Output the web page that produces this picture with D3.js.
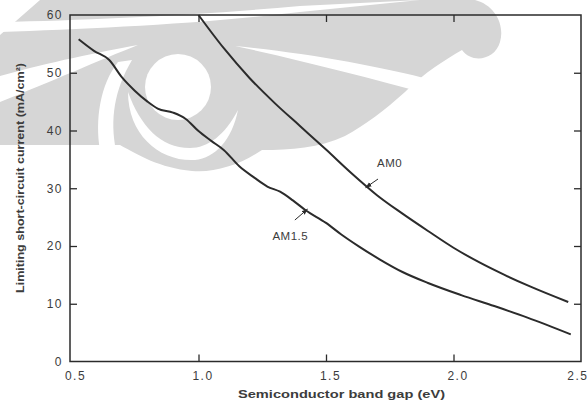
<!DOCTYPE html>
<html><head><meta charset="utf-8">
<script src="https://cdn.jsdelivr.net/npm/d3@7"></script>
<style>body{margin:0;background:#fff}svg{display:block}</style>
</head><body><svg id="c" width="588" height="409"></svg>
<script>
// ---- data ----
const am0E  = [1.00, 1.10, 1.20, 1.30, 1.40, 1.50, 1.60, 1.70, 1.80, 1.90, 2.00, 2.10, 2.20, 2.30, 2.45];
const am0J  = [60.0, 54.2, 49.1, 44.7, 40.7, 36.7, 32.6, 28.8, 25.6, 22.6, 19.7, 17.2, 15.0, 13.0, 10.3];
const am15E = [0.53, 0.59, 0.65, 0.70, 0.75, 0.80, 0.84, 0.90, 0.95, 1.00, 1.05, 1.10, 1.16, 1.22, 1.27, 1.32, 1.37, 1.42, 1.50, 1.56, 1.63, 1.71, 1.80, 1.90, 2.03, 2.16, 2.29, 2.46];
const am15J = [55.8, 53.8, 52.2, 49.2, 46.9, 45.0, 43.8, 43.1, 42.0, 39.9, 38.2, 36.6, 33.8, 31.8, 30.3, 29.4, 27.9, 26.2, 24.0, 22.0, 19.9, 17.7, 15.5, 13.6, 11.5, 9.6, 7.6, 4.7];
const seriesNames = ["AM0", "AM1.5"];
const xTicks = [0.5, 1.0, 1.5, 2.0, 2.5];
const xTickLabels = ["0.5", "1.0", "1.5", "2.0", "2.5"];
const yTicks = [0, 10, 20, 30, 40, 50, 60];
const yTickLabels = ["0", "10", "20", "30", "40", "50", "60"];
const xTitle = "Semiconductor band gap (eV)";
const yTitle = "Limiting short-circuit current (mA/cm\u00B2)";
// annotation anchors in data units: [labelE, labelJ, tailE, tailJ, tipE, tipJ]
const annAM0  = [1.70, 33.6, 1.704, 31.6, 1.655, 30.1];
const annAM15 = [1.29, 21.0, 1.378, 24.5, 1.428, 26.4];

const svg = d3.select("#c");
const x = d3.scaleLinear().domain([0.5, 2.5]).range([71, 581]);
const y = d3.scaleLinear().domain([0, 60]).range([361.5, 15]);
const ink = "#2b2b2b", txt = "#3c3c3c";
const font = "'Liberation Sans', Arial, sans-serif";

// ---- background watermark (decorative) ----
const wm = svg.append("g");
wm.append("path").attr("fill", "#d6d6d6").attr("d",
  "M40,0 L475,0 C495,5 505,25 500,42 C495,60 472,64 462,50 C445,60 425,72 405,92 C385,110 365,125 345,136 C320,148 290,150 262,150 C240,165 215,173 192,171 C160,168 138,155 120,145 L0,145 L0,35 Z");
const wh = "#ffffff";
wm.append("path").attr("fill", wh).attr("d", "M0,22 C90,20 200,15 300,6 L420,0 L300,12 C200,24 90,29 0,32 Z");
wm.append("path").attr("fill", wh).attr("d", "M235,46 C300,52 380,66 432,80 L428,94 C370,78 300,60 235,46 Z");
wm.append("path").attr("fill", wh).attr("d", "M0,76 C50,62 100,52 138,45 C100,60 50,82 0,102 Z");
wm.append("path").attr("fill", wh).attr("d", "M118,62 C100,85 95,120 100,150 L116,150 C110,120 114,90 132,60 Z");
wm.append("circle").attr("fill", wh).attr("cx", 178).attr("cy", 87).attr("r", 33);
wm.append("path").attr("fill", wh).attr("d", "M128,92 C128,135 160,162 195,160 C215,158 232,140 238,110 C225,135 208,148 190,148 C160,148 140,125 128,92 Z");

// ---- frame ----
svg.append("rect").attr("x", x(0.5) - 1).attr("y", y(60)).attr("width", x(2.5) - x(0.5) + 1).attr("height", y(0) - y(60))
  .attr("fill", "none").attr("stroke", ink).attr("stroke-width", 1.5);

function styleAxis(g) {
  g.select(".domain").remove();
  g.selectAll(".tick line").attr("stroke", ink).attr("stroke-width", 1.3);
  g.selectAll(".tick text").attr("fill", txt).attr("font-family", font).attr("font-size", 12).attr("letter-spacing", "1.5px");
}
const innerX = xTicks.slice(1, -1), innerY = yTicks.slice(1, -1);
svg.append("g").attr("transform", `translate(0,${y(0)})`)
  .call(d3.axisBottom(x).tickValues(xTicks).tickSize(-7).tickPadding(10).tickFormat((d, i) => xTickLabels[i]))
  .call(styleAxis)
  .call(g => {
    g.selectAll(".tick text").attr("dx", 4);
    g.selectAll(".tick").filter(d => d === 2.5).select("text").attr("text-anchor", "end").attr("dx", 7);
    g.selectAll(".tick").filter(d => !innerX.includes(d)).select("line").remove();
  });
svg.append("g").attr("transform", `translate(0,${y(60)})`)
  .call(d3.axisTop(x).tickValues(innerX).tickSize(-7).tickFormat(""))
  .call(styleAxis);
svg.append("g").attr("transform", `translate(${x(0.5) - 1},0)`)
  .call(d3.axisLeft(y).tickValues(yTicks).tickSize(-7).tickPadding(7).tickFormat((d, i) => yTickLabels[i]))
  .call(styleAxis)
  .call(g => g.selectAll(".tick").filter(d => !innerY.includes(d)).select("line").remove());
svg.append("g").attr("transform", `translate(${x(2.5)},0)`)
  .call(d3.axisRight(y).tickValues(innerY).tickSize(-7).tickFormat(""))
  .call(styleAxis);

// ---- titles ----
svg.append("text").attr("x", 238).attr("y", 398).attr("textLength", 207).attr("lengthAdjust", "spacingAndGlyphs")
  .attr("font-family", font).attr("font-size", 11.5).attr("font-weight", "bold").attr("fill", txt).text(xTitle);
svg.append("text").attr("transform", "translate(24,293) rotate(-90)").attr("textLength", 230).attr("lengthAdjust", "spacingAndGlyphs")
  .attr("font-family", font).attr("font-size", 11.5).attr("font-weight", "bold").attr("fill", txt).text(yTitle);

// ---- curves ----
const line = d3.line().x(d => x(d[0])).y(d => y(d[1])).curve(d3.curveMonotoneX);
const series = [d3.zip(am0E, am0J), d3.zip(am15E, am15J)];
svg.selectAll(".series").data(series).join("path").attr("class", "series")
  .attr("d", line).attr("fill", "none").attr("stroke", ink).attr("stroke-width", 2).attr("stroke-linejoin", "round");

// ---- annotations ----
svg.append("defs").append("marker").attr("id", "ah").attr("viewBox", "0 0 10 10").attr("refX", 10).attr("refY", 5)
  .attr("markerWidth", 6).attr("markerHeight", 6).attr("orient", "auto")
  .append("path").attr("d", "M0,1 L10,5 L0,9 Z").attr("fill", ink);
[annAM0, annAM15].forEach((a, i) => {
  svg.append("text").attr("x", x(a[0])).attr("y", y(a[1])).attr("font-family", font).attr("font-size", 11.5)
    .attr("fill", txt).attr("letter-spacing", "0.5px").text(seriesNames[i]);
  svg.append("line").attr("x1", x(a[2])).attr("y1", y(a[3])).attr("x2", x(a[4])).attr("y2", y(a[5]))
    .attr("stroke", ink).attr("stroke-width", 1).attr("marker-end", "url(#ah)");
});
</script></body></html>
